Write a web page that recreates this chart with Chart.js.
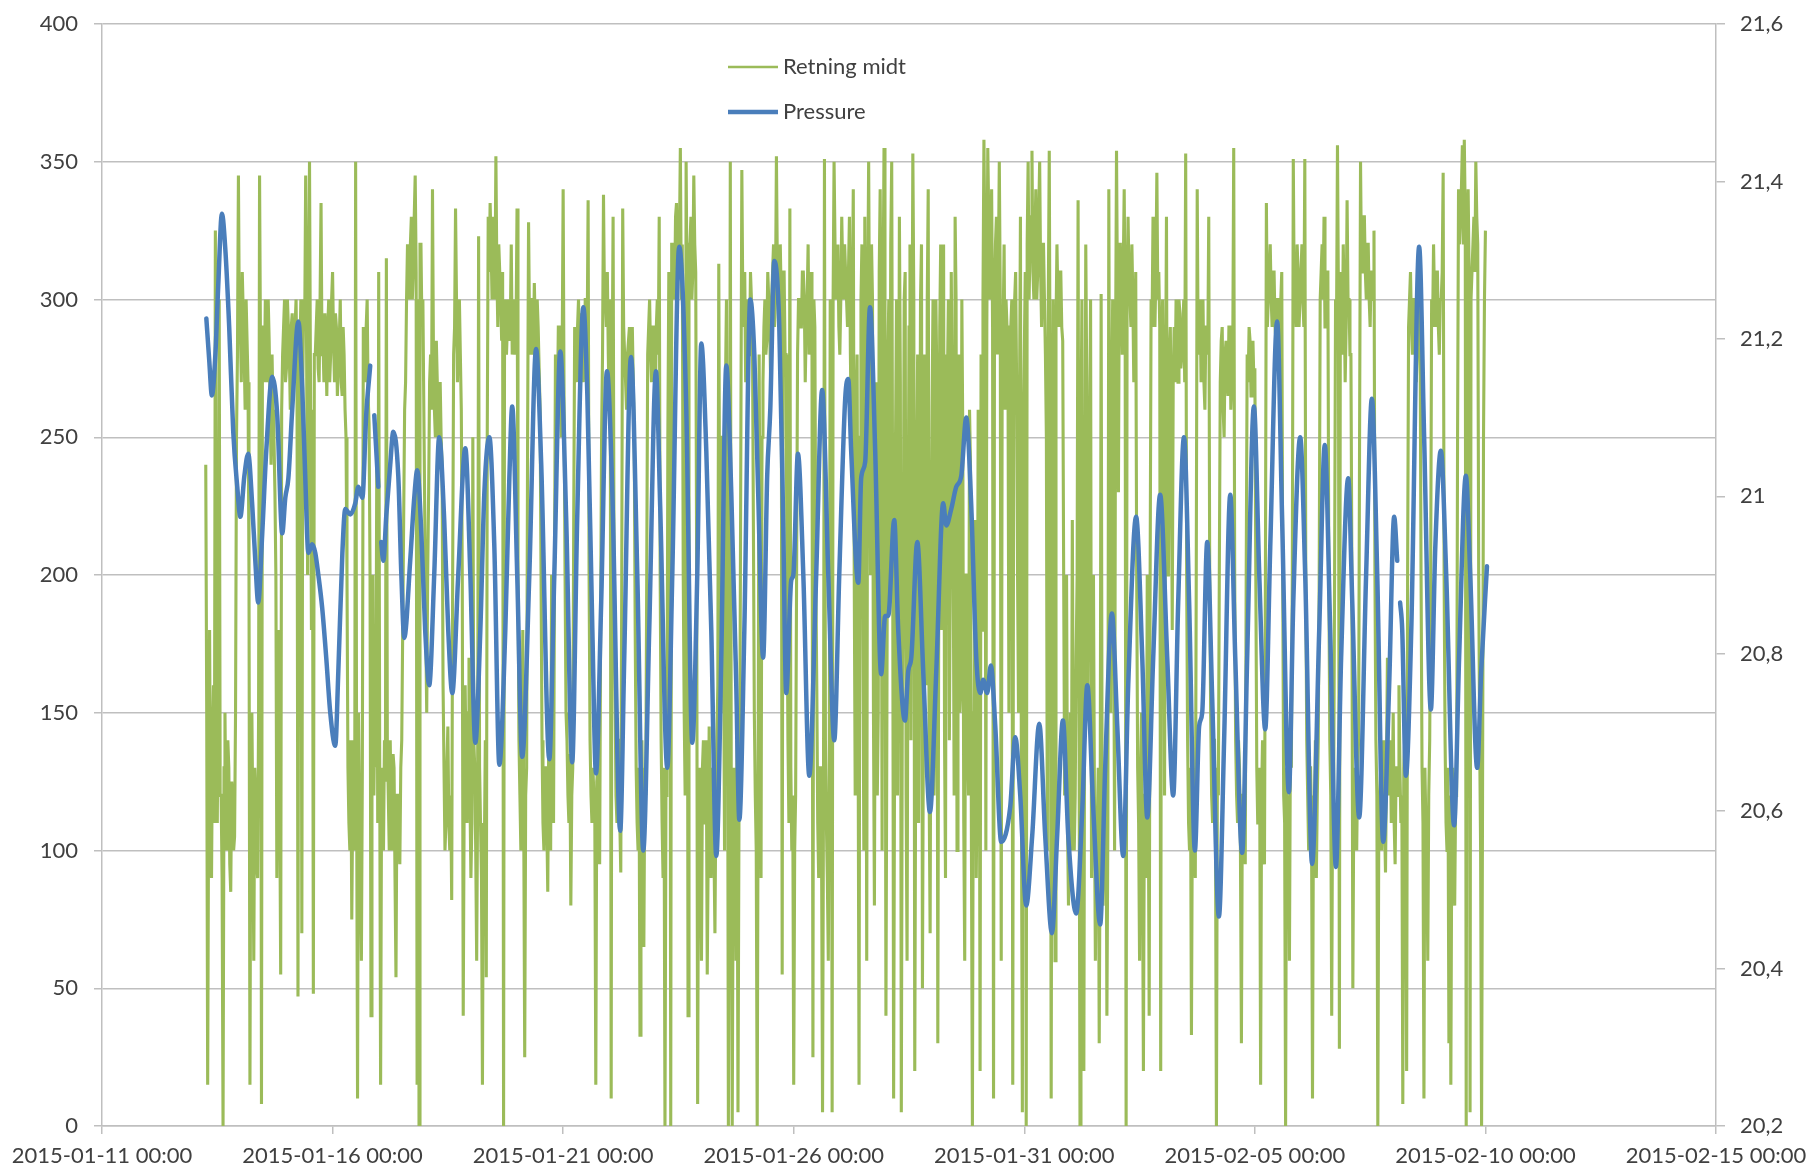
<!DOCTYPE html>
<html>
<head>
<meta charset="utf-8">
<script src="https://cdn.jsdelivr.net/npm/chart.js@4.4.1/dist/chart.umd.min.js"></script>
<style>
html,body{margin:0;padding:0;background:#ffffff;overflow:hidden;}
#wrap{width:1811px;height:1171px;position:relative;}
</style>
</head>
<body>
<div id="wrap"><canvas id="c" width="1811" height="1171"></canvas></div>
<script>
// ---------------- DATA ----------------
// x values are hours after 2015-01-11 00:00
const seriesNames = ['Retning midt', 'Pressure'];
const xTickLabels = ['2015-01-11 00:00','2015-01-16 00:00','2015-01-21 00:00','2015-01-26 00:00','2015-01-31 00:00','2015-02-05 00:00','2015-02-10 00:00','2015-02-15 00:00'];

// "Retning midt" (left axis): half-hourly readings; each segment starts at the given hour
const dirStep = 0.5;
const dirSeg1Start = 54;
const dirSeg1 = [
240,150,15,120,180,100,90,140,160,110,325,130,110,160,300,120,120,90,0,130,
150,110,100,140,130,95,85,125,120,100,105,150,250,280,345,290,290,270,310,295,
280,260,300,285,270,200,15,140,150,110,60,130,120,95,90,150,345,280,8,290,
290,270,300,280,270,300,285,260,240,280,260,250,230,200,90,150,180,120,55,260,
280,290,300,270,275,300,290,280,260,290,295,275,270,290,300,270,47,285,280,300,
70,270,300,290,345,280,200,300,350,270,180,260,48,280,280,290,300,275,270,300,
335,280,285,270,295,285,265,290,300,270,280,300,310,285,270,295,290,265,275,285,
300,270,265,290,280,260,250,200,130,110,100,140,75,120,140,100,350,130,10,150,
120,90,60,130];
const dirSeg2Start = 136;
const dirSeg2 = [
290,280,270,290,300,265,255,200,40,140,200,120,150,130,240,110,310,140,15,120,
130,100,140,125,315,140,120,100,140,115,100,135,130,90,54,120,120,105,95,130,
140,180,220,260,270,300,320,310,300,320,330,300,310,330,345,310,15,300,0,320,
320,290,300,260,220,180,150,200,230,270,280,260,340,280,260,250,285,270,250,260,
270,250,240,160,130,100,110,130,145,110,100,120,82,200,280,290,333,300,270,290,
300,280,260,200,40,120,160,130,110,150,170,120,90,110,250,140,130,100,60,120,
323,130,110,90,15,110,100,140,54,250,330,310,335,320,300,330,320,300,352,310,
290,320,310,300,285,310,0,290,300,280,290,300,285,290,320,280,295,300,280,290,
333,200,140,120,100,130,180,110];
const dirSeg3Start = 220;
const dirSeg3 = [
25,120,130,250,328,290,280,300,300,280,306,290,270,300,290,275,260,200,140,110,
100,130,130,110,85,140,120,100,200,130,110,200,280,270,260,290,290,270,250,280,
340,260,200,150,140,120,110,135,80,120,130,220,290,280,270,290,300,280,265,295,
290,270,280,300,300,285,336,200,140,120,110,130,120,110,15,125,130,105,95,180,
250,280,338,300,300,290,310,280,260,300,10,270,330,200,160,120,110,140,140,110,
92,200,333,290,280,270,260,280,285,290,270,280,290,270,250,180,130,110,100,130,
33,120,140,100,65,130,120,200,280,290,300,280,270,290,290,275,265,290,300,280,
330,200,140,110,90,130,0,120,120,250,310,300,0,320,320,310,300,330,335,310,
310,320,355,300,320,200,150,120];
const dirSeg4Start = 304;
const dirSeg4 = [
350,300,40,320,320,330,300,310,345,320,310,200,8,120,130,100,60,130,140,110,
110,140,55,100,145,120,90,130,120,100,70,120,140,160,313,200,150,250,250,180,
100,270,300,200,0,150,350,120,0,100,130,120,60,140,5,110,150,250,347,300,
290,310,270,290,300,280,280,310,300,290,220,150,120,100,0,130,280,200,90,250,
270,290,300,280,285,310,300,290,270,300,310,320,290,300,352,310,300,290,320,300,
55,310,310,280,280,200,140,110,333,130,100,120,15,100,120,200,280,300,300,290,
290,310,310,300,270,290,300,320,280,300,310,290,25,300,290,200,160,110,90,130,
130,100,5,120,351,140,110,90,60,130,300,250,5,300,350,320,300,310,320,290,
280,300,330,310,300,320,310,300,290,310];
const dirSeg5Start = 389;
const dirSeg5 = [
330,280,250,300,340,200,120,260,280,150,15,250,300,320,180,100,330,240,60,300,
350,280,200,320,300,150,80,200,270,120,150,310,340,280,100,300,355,250,40,150,
280,300,190,320,350,220,10,140,250,300,120,200,330,270,5,150,200,300,310,120,
60,200,290,320,140,260,353,300,20,140,240,280,110,200,300,320,50,150,280,250,
160,300,340,120,70,200,260,300,120,150,300,270,30,200,290,320,180,250,320,140,
90,280,270,300,140,200,310,260,210,120,330,300,100,220,280,150,160,300,250,110,
60,200,200,140,120,260,240,100,0,150,150,220,90,130,260,200,20,280,180,300,
358,320,100,290,355,330,300,310,340,290,10,300,320,330,280,310,350,300,60,280,
290,320,260,300,300,280,150,290];
const dirSeg6Start = 473;
const dirSeg6 = [
290,300,15,280,300,310,270,200,150,260,330,120,5,250,280,310,0,320,350,300,
320,330,354,310,300,320,340,300,310,330,350,310,290,320,320,300,280,250,100,300,
354,250,10,200,300,150,60,290,320,300,290,310,310,290,285,200,120,150,200,110,
80,130,150,100,220,140,100,120,170,200,336,150,0,250,300,120,20,200,320,270,
150,200,250,300,90,180,200,120,60,100,110,130,30,110,302,120,80,100,120,140,
40,110,340,200,150,260,300,200,100,280,354,300,230,320,320,300,280,310,340,290,
0,300,330,310,300,290,320,300,270,290,310,200,130,110,60,130,150,100,20,120,
120,90,200,130,40,200,300,290,330,300,290,310,346,300,310,290,20,280,300,250,
120,260,330,200,200,280,290,250,180,270];
const dirSeg7Start = 558;
const dirSeg7 = [
290,270,300,285,270,300,295,275,280,290,300,270,353,200,140,110,100,130,33,120,
130,100,90,200,340,280,290,300,270,285,300,270,260,290,290,280,330,200,150,120,
110,140,140,110,0,130,120,200,270,285,290,260,250,280,285,270,265,290,290,260,
270,280,355,200,140,120,110,140,130,100,30,120,120,110,95,200,280,270,290,285,
265,280,285,270,275,200,130,110,110,130,15,120,140,100,95,200,335,290,300,310,
320,300,290,310,310,290,285,300,300,290,280,300,310,200,120,110,0,130,100,120,
60,140,130,200,351,300,300,290,320,310,290,300,310,320,300,290,351,200,140,120,
100,130,130,110,10,120,110,140,90,120,140,200,300,310,320,300,330,290,290,310,
310,200,140,120,40,130,120,200];
const dirSeg8Start = 642;
const dirSeg8 = [
300,290,356,300,28,310,290,280,320,300,270,290,336,300,300,280,280,200,50,120,
130,110,100,130,140,250,350,310,310,330,330,310,300,320,320,300,290,310,310,300,
325,200,140,120,0,110,120,130,100,120,140,110,92,130,170,120,130,140,110,120,
150,110,95,130,130,120,160,130,110,120,8,130,140,110,20,200,290,300,310,290,
280,300,300,290,270,280,310,300,290,200,130,110,10,130,110,100,60,120,140,200,
300,290,320,300,290,310,310,290,280,300,300,310,346,200,140,110,100,130,30,120,
15,110,130,100,80,120,120,250,340,320,330,340,356,320,358,330,0,320,340,310,
5,300,300,320,330,310,350,330,320,200,140,100,0,120,250,300,325];

// "Pressure" (right axis): reading times (hours) and values; null = gap
const pressureHours = [
54.3,55.8,57.2,59.0,60.5,62.4,64.2,66.2,68.3,70.4,
72.0,74.1,76.1,78.2,79.8,81.3,83.4,85.5,88.6,91.2,
93.8,95.4,97.0,99.0,102.2,104.2,105.8,107.4,109.4,111.0,
112.6,114.6,116.7,118.8,121.4,123.0,125.1,126.6,129.2,131.8,
133.4,135.5,137.5,139.6,140.6,141.7,143.8,144.6,145.3,146.4,
148.0,150.0,151.6,154.2,155.8,157.3,160.4,162.5,164.1,166.2,
168.2,170.3,172.9,175.5,178.1,180.2,182.3,185.4,189.1,191.7,
194.3,196.9,199.0,201.6,204.2,206.8,209.9,212.0,213.5,216.1,
218.7,222.4,225.9,228.6,232.8,235.4,238.5,241.6,244.7,247.3,
250.5,252.6,255.2,257.1,259.8,262.8,265.6,269.7,271.8,275.3,
278.6,281.7,284.8,288.3,290.5,294.2,296.8,300.4,304.1,307.2,
309.8,311.9,314.5,317.1,319.7,322.3,324.9,327.5,330.1,331.7,
334.3,337.4,339.5,341.5,344.1,346.2,347.8,349.9,352.5,354.5,
356.1,358.7,359.8,362.2,365.0,368.1,371.7,374.8,378.0,381.1,
383.7,386.8,388.4,389.9,393.6,395.1,397.2,399.7,402.4,405.5,
407.6,409.2,412.3,414.4,417.9,419.6,421.2,424.3,427.4,430.9,
434.2,437.8,439.4,442.0,444.6,447.2,449.8,452.4,455.0,457.1,
458.6,460.7,462.6,464.9,468.0,472.7,475.3,477.9,481.0,484.1,
487.8,490.9,494.4,497.1,500.1,502.9,507.0,510.2,512.8,515.9,
519.5,522.1,525.6,528.4,531.5,534.1,538.2,541.4,544.0,547.1,
550.7,554.4,557.5,560.1,563.1,565.8,568.8,571.0,572.6,575.2,
577.8,581.3,584.0,587.2,589.8,593.4,596.0,599.5,602.3,605.4,
608.0,611.6,614.2,617.7,620.0,623.6,626.2,629.8,633.5,636.4,
639.2,642.2,644.9,648.6,650.7,654.3,657.9,660.9,663.7,666.8,
669.9,672.5,674.1,674.8,675.6,676.7,678.6,681.4,685.5,688.1,
691.6,693.9,696.8,699.6,703.7,706.3,709.8,712.1,715.7,717.8,
720.8];
const pressureValues = [
21.226,21.173,21.128,21.180,21.268,21.359,21.313,21.215,21.082,21.012,
20.974,21.026,21.054,20.988,20.918,20.865,20.953,21.058,21.152,21.103,
20.953,20.998,21.023,21.110,21.222,21.138,21.023,20.928,20.939,20.928,
20.900,20.858,20.795,20.725,20.683,20.778,20.928,20.984,20.977,20.991,
21.012,20.998,21.103,21.166,null,21.103,21.012,null,20.942,20.918,
20.977,21.040,21.082,21.026,20.900,20.820,20.918,20.998,21.033,20.953,
20.830,20.760,20.900,21.075,20.970,20.830,20.750,20.900,21.061,20.900,
20.687,20.830,21.005,21.075,20.935,20.659,20.830,21.023,21.114,20.900,
20.669,20.900,21.187,21.040,20.666,20.900,21.184,20.970,20.662,20.970,
21.240,21.128,20.830,20.648,20.865,21.159,21.005,20.575,20.795,21.177,
20.900,20.550,20.830,21.159,20.988,20.655,20.900,21.317,21.110,20.687,
20.900,21.194,21.058,20.830,20.543,20.795,21.166,21.005,20.760,20.589,
20.830,21.250,21.180,21.005,20.795,21.026,21.110,21.299,21.215,20.970,
20.750,20.893,20.900,21.054,20.900,20.645,20.900,21.135,20.900,20.690,
20.900,21.124,21.149,21.058,20.890,21.023,21.044,21.240,21.058,20.774,
20.848,20.848,20.970,20.830,20.715,20.778,20.795,20.942,20.778,20.599,
20.778,20.991,20.963,20.984,21.012,21.026,21.100,20.988,20.795,20.750,
20.767,20.750,20.785,20.708,20.561,20.606,20.694,20.620,20.480,20.568,
20.711,20.568,20.445,20.568,20.715,20.568,20.470,20.603,20.760,20.603,
20.456,20.655,20.851,20.708,20.543,20.760,20.974,20.795,20.592,20.795,
21.002,20.795,20.620,20.865,21.075,20.865,20.550,20.708,20.725,20.942,
20.743,20.466,20.690,21.002,20.795,20.547,20.795,21.114,20.900,20.704,
20.935,21.222,20.970,20.624,20.865,21.075,20.900,20.533,20.830,21.065,
20.830,20.529,20.795,21.023,20.865,20.592,20.900,21.124,20.900,20.561,
20.760,20.974,20.918,null,20.865,20.830,20.645,20.830,21.317,21.075,
20.729,20.935,21.058,20.900,20.582,20.795,21.026,20.900,20.655,20.778,
20.911];

// ---------------- BUILD ----------------
function seg(start, vals){ return vals.map((v,i)=>({x:start+i*dirStep, y:v})); }
const directionData = [].concat(
  seg(dirSeg1Start, dirSeg1), seg(dirSeg2Start, dirSeg2), seg(dirSeg3Start, dirSeg3),
  seg(dirSeg4Start, dirSeg4), seg(dirSeg5Start, dirSeg5), seg(dirSeg6Start, dirSeg6),
  seg(dirSeg7Start, dirSeg7), seg(dirSeg8Start, dirSeg8));
const pressureData = pressureHours.map((h,i)=>({x:h, y:pressureValues[i]}));

const GREEN = '#9bbb59';
const BLUE = '#4a7ebb';
const GRID = '#bfbfbf';
const TXT = '#404040';
const FONT = {family:'Lato, "Open Sans", sans-serif', size:22};

const legendPlugin = {
  id:'customLegend',
  afterDraw(chart){
    const ctx = chart.ctx;
    const items = [
      {label:seriesNames[0], color:GREEN, w:2.5, y:67},
      {label:seriesNames[1], color:BLUE, w:4.5, y:112}
    ];
    ctx.save();
    ctx.font = '22px Lato, "Open Sans", sans-serif';
    ctx.textBaseline = 'middle';
    ctx.textAlign = 'left';
    items.forEach(it=>{
      ctx.strokeStyle = it.color; ctx.lineWidth = it.w; ctx.lineCap='butt';
      ctx.beginPath(); ctx.moveTo(728, it.y); ctx.lineTo(778, it.y); ctx.stroke();
      ctx.fillStyle = TXT;
      ctx.fillText(it.label, 783, it.y);
    });
    ctx.restore();
  }
};

// fixed box sizes; label offsets must not enlarge the outer padding
function fixBox(w, h){
  return function(s){
    if (w !== null) s.width = w;
    if (h !== null) s.height = h;
    s.paddingTop = 0; s.paddingBottom = 0; s.paddingLeft = 0; s.paddingRight = 0;
  };
}

new Chart(document.getElementById('c'), {
  type:'line',
  data:{
    datasets:[
      {label:seriesNames[0], data:directionData, yAxisID:'y', borderColor:GREEN, borderWidth:3.1,
       pointRadius:0, tension:0, order:2, spanGaps:false},
      {label:seriesNames[1], data:pressureData, yAxisID:'y1', borderColor:BLUE, borderWidth:4.5,
       pointRadius:0, cubicInterpolationMode:'monotone', borderJoinStyle:'round', borderCapStyle:'round',
       order:1, spanGaps:false}
    ]
  },
  options:{
    responsive:false, animation:false, devicePixelRatio:1,
    layout:{padding:{top:24, left:0, right:0, bottom:0}, autoPadding:false},
    plugins:{legend:{display:false}, tooltip:{enabled:false}},
    scales:{
      x:{type:'linear', position:'bottom', min:0, max:840,
         ticks:{stepSize:120, autoSkip:false, maxRotation:0, minRotation:0, color:TXT, font:FONT, padding:9,
                callback:(v)=> (v % 120 === 0) ? xTickLabels[Math.round(v/120)] : ''},
         grid:{drawOnChartArea:false, drawTicks:true, tickLength:8, color:GRID, lineWidth:1.5},
         border:{display:true, color:GRID, width:1.5},
         afterFit: fixBox(null, 45)},
      y:{type:'linear', position:'left', min:0, max:400,
         ticks:{stepSize:50, color:TXT, font:FONT, padding:16},
         grid:{color:GRID, lineWidth:1.5, tickLength:8, drawTicks:true},
         border:{display:true, color:GRID, width:1.5},
         afterFit: fixBox(102, null)},
      y1:{type:'linear', position:'right', min:20.2, max:21.6,
         ticks:{stepSize:0.2, color:TXT, font:FONT, padding:15,
                callback:(v)=> String(parseFloat(Number(v).toFixed(1))).replace('.', ',')},
         grid:{drawOnChartArea:false, drawTicks:true, tickLength:9, color:GRID, lineWidth:1.5},
         border:{display:true, color:GRID, width:1.5},
         afterFit: fixBox(95, null)}
    }
  },
  plugins:[legendPlugin]
});
</script>
</body>
</html>
